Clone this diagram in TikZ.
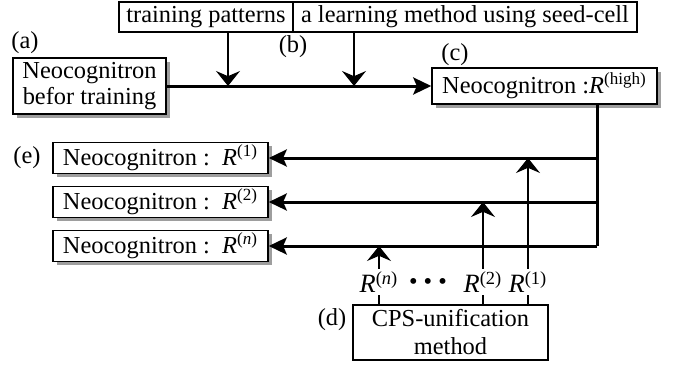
\documentclass[tikz,border=0pt]{standalone}
\usepackage{fontspec}
\setmainfont{Liberation Serif}
\usetikzlibrary{arrows.meta,shadows}
\begin{document}
\begin{tikzpicture}[x=0.5pt,y=-0.5pt,
  every node/.style={font=\fontsize{12.2}{13}\selectfont},
  box/.style={draw, line width=0.75pt, fill=white, inner sep=0pt, align=center},
  sbox/.style={box, drop shadow={shadow xshift=1.8pt, shadow yshift=-1.8pt, fill=black!38, opacity=1}},
  lbl/.style={inner sep=0pt},
  rlbl/.style={fill=white, inner sep=1pt, font=\fontsize{13.2}{14}\selectfont},
  vtip/.tip={Stealth[length=7.5pt,width=12pt,inset=2.6pt]},
  htip/.tip={Stealth[length=9pt,width=8.5pt,inset=1.8pt]},
  thickline/.style={line width=1.5pt},
  thinline/.style={line width=0.55pt}
]
\useasboundingbox (0,0) rectangle (683,369);

% top boxes
\node[box, minimum width=87pt, minimum height=15pt] (tp) at (206,17) {training patterns};
\node[box, minimum width=172pt, minimum height=15pt] (lm) at (465,17) {a learning method using seed-cell};

% main boxes
\node[sbox, minimum width=76.5pt, minimum height=28pt] (a) at (89.5,86) {Neocognitron\\befor training};
\node[sbox, minimum width=112.5pt, minimum height=18pt] (c) at (544.5,86) {Neocognitron :\textit{R}\textsuperscript{(high)}};
\node[sbox, minimum width=107.5pt, minimum height=15.5pt] (e1) at (160.5,158) {Neocognitron :\ \ \textit{R}\textsuperscript{(1)}};
\node[sbox, minimum width=107.5pt, minimum height=15.5pt] (e2) at (160.5,202) {Neocognitron :\ \ \textit{R}\textsuperscript{(2)}};
\node[sbox, minimum width=107.5pt, minimum height=15.5pt] (e3) at (160.5,246) {Neocognitron :\ \ \textit{R}\textsuperscript{(\textit{n})}};
\node[box, minimum width=97.5pt, minimum height=27.5pt, font=\fontsize{12.2}{14}\selectfont] (d) at (450.5,332.5) {CPS-unification\\method};

% letter labels
\node[lbl] (la) at (25,43) {(a)};
\node[lbl] (lb) at (293,47) {(b)};
\node[lbl] (lc) at (455,55) {(c)};
\node[lbl] (ld) at (332,320) {(d)};
\node[lbl] (le) at (27,158) {(e)};

% main arrow and inputs
\draw[thickline, -htip] (a.east) -- (c.west);
\coordinate (m1) at (228,86);
\coordinate (m2) at (354,86);
\draw[thinline, -vtip] (tp.south -| m1) -- (m1);
\draw[thinline, -vtip] (lm.south -| m2) -- (m2);

% distribution from (c)
\coordinate (v0) at (597,0);
\coordinate (j1) at (597,158);
\coordinate (j2) at (597,202);
\coordinate (j3) at (597,246);
\draw[thickline] (c.south -| v0) -- (j3);
\draw[thickline, -htip] (j1) -- (e1.east);
\draw[thickline, -htip] (j2) -- (e2.east);
\draw[thickline, -htip] (j3) -- (e3.east);

% results from CPS-unification
\coordinate (u1) at (528,158);
\coordinate (u2) at (483,202);
\coordinate (un) at (379,246);
\draw[thinline, -vtip] (d.north -| u1) -- (u1);
\draw[thinline, -vtip] (d.north -| u2) -- (u2);
\draw[thinline, -vtip] (d.north -| un) -- (un);
\node[rlbl] (r1) at (528,282) {\textit{R}\textsuperscript{(1)}};
\node[rlbl] (r2) at (483,282) {\textit{R}\textsuperscript{(2)}};
\node[rlbl] (rn) at (379,282) {\textit{R}\textsuperscript{(\textit{n})}};
\node[lbl] (dots) at (428,284) {\textbullet\ \textbullet\ \textbullet};
\end{tikzpicture}
\end{document}
